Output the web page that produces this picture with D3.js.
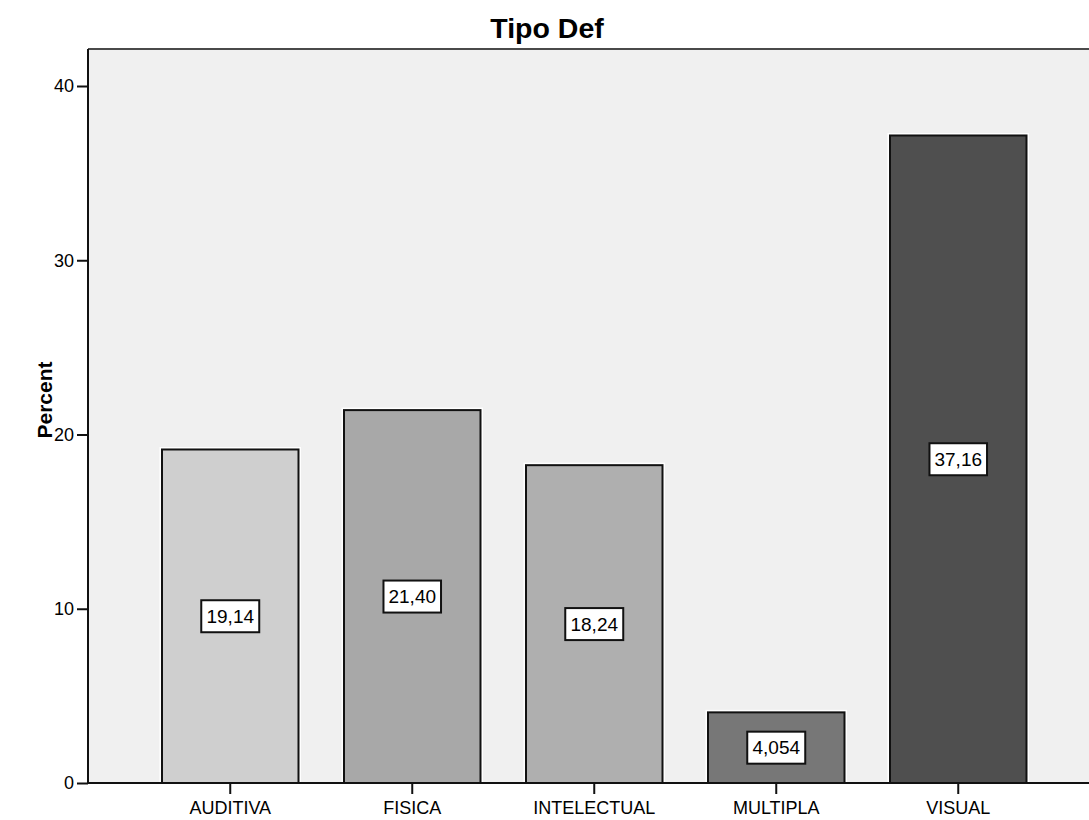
<!DOCTYPE html>
<html>
<head>
<meta charset="utf-8">
<script src="https://cdn.jsdelivr.net/npm/d3@7"></script>
<style>
  html, body { margin: 0; padding: 0; background: #ffffff; }
  svg { display: block; }
  text { font-family: "Liberation Sans", Arial, sans-serif; fill: #000; }
</style>
</head>
<body>
<svg id="chart" width="1089" height="820"></svg>
<script>
const categories = ["AUDITIVA", "FISICA", "INTELECTUAL", "MULTIPLA", "VISUAL"];
const values = [19.14, 21.40, 18.24, 4.054, 37.16];
const valueLabels = ["19,14", "21,40", "18,24", "4,054", "37,16"];
const barColors = ["#cfcfcf", "#a8a8a8", "#afafaf", "#777777", "#4f4f4f"];
const yTicks = [0, 10, 20, 30, 40];
const title = "Tipo Def";
const yTitle = "Percent";

const svg = d3.select("#chart");
const W = 1089, H = 820;
const plot = { left: 88, top: 49, right: 1089, bottom: 783 };

const y = d3.scaleLinear().domain([0, 40]).range([plot.bottom, plot.bottom - 40 * 17.425]);
const x = d3.scaleBand().domain(categories).range([139.25, 1049.25]).paddingInner(0.25).paddingOuter(0.125);

// plot background
svg.append("rect")
  .attr("x", plot.left).attr("y", plot.top)
  .attr("width", plot.right - plot.left + 2).attr("height", plot.bottom - plot.top)
  .attr("fill", "#f0f0f0");

// top border
svg.append("line")
  .attr("x1", plot.left).attr("x2", W)
  .attr("y1", plot.top).attr("y2", plot.top)
  .attr("stroke", "#4a4a4a").attr("stroke-width", 2);

// bars: white halo then bar
const bars = svg.append("g");
categories.forEach((c, i) => {
  const x0 = x(c), bw = x.bandwidth();
  const y0 = y(values[i]);
  bars.append("rect")
    .attr("x", x0 - 1).attr("y", y0 - 1)
    .attr("width", bw + 2).attr("height", y(0) - y0 + 1)
    .attr("fill", "none").attr("stroke", "#ffffff").attr("stroke-width", 3);
  bars.append("rect")
    .attr("x", x0).attr("y", y0)
    .attr("width", bw).attr("height", y(0) - y0)
    .attr("fill", barColors[i]).attr("stroke", "#111").attr("stroke-width", 2);
});

// value labels
const labels = svg.append("g");
categories.forEach((c, i) => {
  const cx = x(c) + x.bandwidth() / 2;
  const cy = y(values[i] / 2);
  const t = labels.append("text")
    .attr("x", cx).attr("y", cy)
    .attr("text-anchor", "middle").attr("dominant-baseline", "central")
    .style("font-size", "19px")
    .text(valueLabels[i]);
  const bb = t.node().getBBox();
  labels.insert("rect", "text")
    .attr("x", cx - bb.width / 2 - 5).attr("y", cy - 16)
    .attr("width", bb.width + 10).attr("height", 32)
    .attr("fill", "#fff").attr("stroke", "#111").attr("stroke-width", 2);
});

// y axis
const yAxis = d3.axisLeft(y).tickValues(yTicks).tickSize(11).tickPadding(3).tickFormat(d3.format("d"));
const gy = svg.append("g").attr("transform", `translate(${plot.left},0)`).call(yAxis);
gy.select(".domain").attr("stroke", "#111").attr("stroke-width", 2)
  .attr("d", `M0,${plot.top}V${plot.bottom}`);
gy.selectAll(".tick line").attr("stroke", "#111").attr("stroke-width", 2);
gy.selectAll(".tick text").style("font-size", "18px").style("font-family", "Liberation Sans, Arial, sans-serif").attr("fill", "#000");

// x axis
const xAxis = d3.axisBottom(x).tickSize(11).tickPadding(7);
const gx = svg.append("g").attr("transform", `translate(0,${plot.bottom})`).call(xAxis);
gx.select(".domain").attr("stroke", "#111").attr("stroke-width", 2)
  .attr("d", `M${plot.left},0H${W}`);
gx.selectAll(".tick line").attr("stroke", "#111").attr("stroke-width", 2);
gx.selectAll(".tick text").style("font-size", "18px").style("font-family", "Liberation Sans, Arial, sans-serif").attr("fill", "#000");

// title
svg.append("text")
  .attr("x", 547).attr("y", 38)
  .attr("text-anchor", "middle")
  .style("font-size", "28.5px").style("font-weight", "bold")
  .text(title);

// y title
svg.append("text")
  .attr("transform", "translate(52,400) rotate(-90)")
  .attr("text-anchor", "middle")
  .style("font-size", "21px").style("font-weight", "bold")
  .text(yTitle);
</script>
</body>
</html>
